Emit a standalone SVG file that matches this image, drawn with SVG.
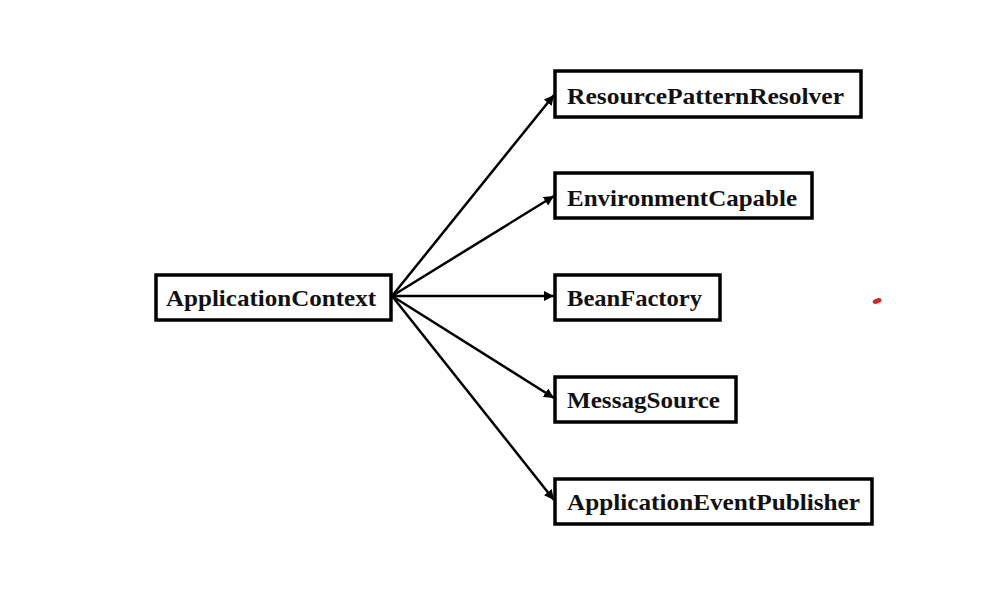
<svg xmlns="http://www.w3.org/2000/svg" width="994" height="609" viewBox="0 0 994 609">
<style>
.box{fill:#fff;stroke:#000;stroke-width:3.5}
.lbl{font-family:"Liberation Serif","DejaVu Serif",serif;font-weight:bold;font-size:24px;fill:#111}
.edge{stroke:#000;stroke-width:2.5;fill:none;marker-end:url(#ah)}
</style>
<defs>
<marker id="ah" viewBox="0 0 10 10" refX="10" refY="5" markerWidth="4" markerHeight="4" orient="auto" markerUnits="strokeWidth">
<path d="M0,0 L10,5 L0,10 z" fill="#000"/>
</marker>
</defs>
<rect width="994" height="609" fill="#fff"/>
<g id="connectors">
<line class="edge" x1="392" y1="296" x2="554" y2="95"/>
<line class="edge" x1="392" y1="296" x2="554" y2="196"/>
<line class="edge" x1="392" y1="296" x2="554" y2="296"/>
<line class="edge" x1="392" y1="296" x2="554" y2="398"/>
<line class="edge" x1="392" y1="296" x2="554" y2="500"/>
</g>
<g id="ApplicationContext">
<rect class="box" x="156" y="275" width="235" height="45"/>
<text class="lbl" x="166" y="306" textLength="210" lengthAdjust="spacingAndGlyphs">ApplicationContext</text>
</g>
<g id="ResourcePatternResolver">
<rect class="box" x="555" y="71" width="306" height="46"/>
<text class="lbl" x="567" y="104" textLength="277" lengthAdjust="spacingAndGlyphs">ResourcePatternResolver</text>
</g>
<g id="EnvironmentCapable">
<rect class="box" x="555" y="173" width="257" height="45"/>
<text class="lbl" x="567" y="206" textLength="230" lengthAdjust="spacingAndGlyphs">EnvironmentCapable</text>
</g>
<g id="BeanFactory">
<rect class="box" x="555" y="275" width="165" height="45"/>
<text class="lbl" x="567" y="306" textLength="135" lengthAdjust="spacingAndGlyphs">BeanFactory</text>
</g>
<g id="MessagSource">
<rect class="box" x="555" y="377" width="181" height="45"/>
<text class="lbl" x="567" y="408" textLength="153" lengthAdjust="spacingAndGlyphs">MessagSource</text>
</g>
<g id="ApplicationEventPublisher">
<rect class="box" x="555" y="479" width="317" height="45"/>
<text class="lbl" x="567" y="510" textLength="293" lengthAdjust="spacingAndGlyphs">ApplicationEventPublisher</text>
</g>
<ellipse cx="877" cy="301" rx="4.5" ry="2.5" transform="rotate(-20 877 301)" fill="#e02020"/>
</svg>
